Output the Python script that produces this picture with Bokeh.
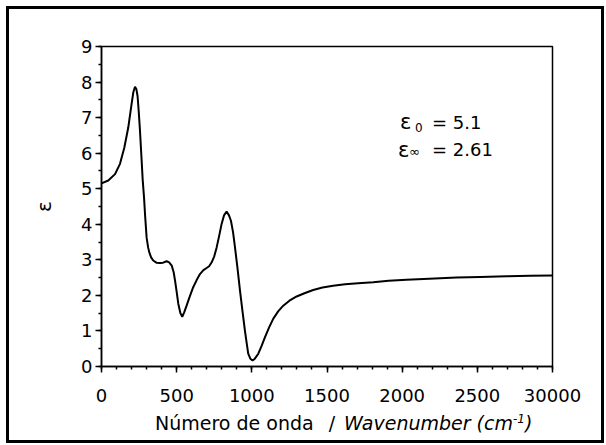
from bokeh.plotting import figure
from bokeh.models import Range1d, FixedTicker, Label, Div, Column
from bokeh.embed import file_html
from bokeh.resources import INLINE

# ---- data ----
wavenumber = [0, 45, 90, 123, 152, 178, 200, 212, 223, 232, 240, 248, 256, 265, 274,
              283, 290, 300, 310, 318, 330, 344, 365, 389, 410, 433, 450, 467, 480, 489,
              500, 511, 525, 537, 550, 566, 588, 610, 633, 655, 678, 699, 716, 733, 750,
              766, 783, 799, 815, 832, 848, 861, 875, 888, 905, 921, 938, 954, 966, 976,
              990, 1005, 1020, 1043, 1065, 1087, 1115, 1142, 1175, 1209, 1250, 1298, 1350,
              1408, 1470, 1541, 1620, 1707, 1807, 1910, 2029, 2180, 2362, 2520, 2694, 2850,
              3000]
epsilon = [5.15, 5.23, 5.41, 5.70, 6.16, 6.72, 7.38, 7.72, 7.87, 7.80, 7.60, 7.15, 6.63,
           5.95, 5.25, 4.75, 4.25, 3.63, 3.35, 3.21, 3.07, 2.98, 2.92, 2.91, 2.92, 2.96,
           2.93, 2.84, 2.65, 2.42, 2.10, 1.76, 1.50, 1.40, 1.52, 1.71, 1.98, 2.23, 2.43,
           2.60, 2.71, 2.77, 2.82, 2.93, 3.10, 3.35, 3.68, 4.01, 4.25, 4.36, 4.25, 4.10,
           3.78, 3.35, 2.75, 2.14, 1.55, 1.01, 0.65, 0.36, 0.22, 0.17, 0.22, 0.36, 0.58,
           0.82, 1.10, 1.34, 1.55, 1.71, 1.85, 1.97, 2.06, 2.15, 2.22, 2.27, 2.31, 2.34,
           2.37, 2.41, 2.44, 2.47, 2.50, 2.52, 2.54, 2.55, 2.56]

x_ticks = [0, 500, 1000, 1500, 2000, 2500, 3000]
x_tick_labels = ["0", "500", "1000", "1500", "2000", "2500", "30000"]
x_minor = [v for v in range(0, 3001, 100)]
y_ticks = [0, 1, 2, 3, 4, 5, 6, 7, 8, 9]
y_minor = [v / 2 for v in range(0, 19)]

eps0_text = "5.1"
epsinf_text = "2.61"

FONT = "DejaVu Sans"

p = figure(frame_width=451, frame_height=320,
           min_border_left=92, min_border_right=49, min_border_top=37, min_border_bottom=46,
           x_range=Range1d(0, 3000), y_range=Range1d(0, 9),
           output_backend="svg", toolbar_location=None)

p.background_fill_color = "white"
p.border_fill_color = "white"
p.outline_line_color = "black"
p.outline_line_width = 1.5
p.grid.visible = False

p.line(wavenumber, epsilon, line_color="black", line_width=2)

for ax in (p.xaxis[0], p.yaxis[0]):
    ax.axis_line_width = 1.5
    ax.axis_line_color = "black"
    ax.major_tick_line_width = 1.5
    ax.minor_tick_line_width = 1.5
    ax.major_tick_line_color = "black"
    ax.minor_tick_line_color = "black"
    ax.major_tick_in = 0
    ax.major_tick_out = 6
    ax.minor_tick_in = 0
    ax.minor_tick_out = 3
    ax.major_label_text_font = FONT
    ax.major_label_text_font_size = "18px"
    ax.major_label_text_color = "black"

p.xaxis.ticker = FixedTicker(ticks=x_ticks, minor_ticks=x_minor)
p.xaxis.major_label_overrides = {t: l for t, l in zip(x_ticks, x_tick_labels)}
p.xaxis.major_label_standoff = 16

p.yaxis.ticker = FixedTicker(ticks=y_ticks, minor_ticks=y_minor)
p.yaxis.major_label_standoff = 3
p.yaxis.axis_label = "ε"
p.yaxis.axis_label_text_font = FONT
p.yaxis.axis_label_text_font_style = "normal"
p.yaxis.axis_label_text_font_size = "20px"
p.yaxis.axis_label_text_color = "black"
p.yaxis.axis_label_standoff = 22

# annotation
ann_x = 1972
line1_y, line2_y = 6.87, 6.10
ann = [("ε", "21px", 2, 0, line1_y),
       ("0", "12px", 17, -5, line1_y),
       ("= " + eps0_text, "18px", 34, 0, line1_y),
       ("ε", "21px", 0, 0, line2_y),
       ("∞", "13px", 11, -2, line2_y),
       ("= " + epsinf_text, "18px", 34, 0, line2_y)]
for txt, size, dx, dy, yy in ann:
    p.add_layout(Label(x=ann_x, y=yy, x_offset=dx, y_offset=dy, text=txt,
                       text_font=FONT, text_font_size=size, text_color="black",
                       text_baseline="alphabetic", text_align="left"))

# x-axis title (normal / italic / superscript pieces)
xtitle = Div(
    text=('<span style="margin-left:146px">Número de onda</span>'
          '<span style="margin-left:15px">/</span>'
          '<i style="margin-left:9px">Wavenumber (cm'
          '<sup style="font-size:12px;vertical-align:7px;line-height:0">-1</sup>)</i>'),
    width=592, height=28, margin=0,
    styles={"font-family": FONT, "font-size": "19px", "color": "black",
            "line-height": "22px", "white-space": "nowrap", "background": "white"})

layout = Column(children=[p, xtitle], spacing=0,
                styles={"border": "3px solid black", "margin-left": "6px",
                        "margin-top": "6px", "background": "white"})

open("out.html", "w").write(file_html(layout, INLINE))
